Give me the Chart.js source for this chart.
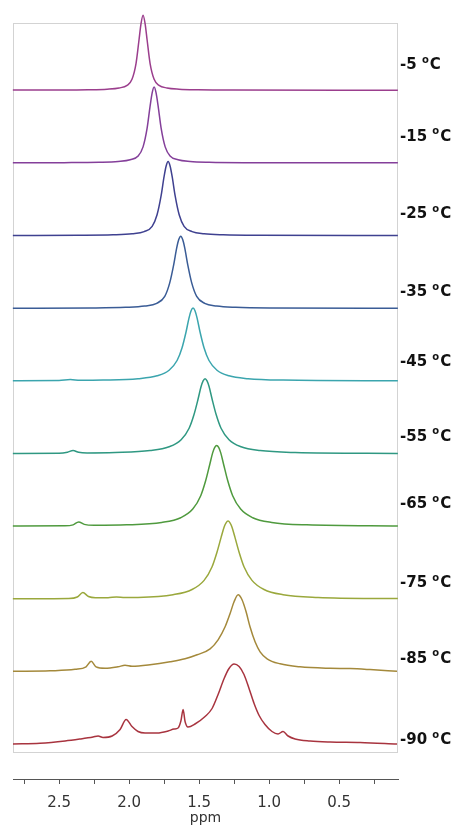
<!DOCTYPE html>
<html>
<head>
<meta charset="utf-8">
<script src="https://cdn.jsdelivr.net/npm/chart.js@4.4.1/dist/chart.umd.min.js"></script>
<style>
  html, body { margin: 0; padding: 0; background: #ffffff; }
  #wrap { width: 456px; height: 829px; position: relative; }
</style>
</head>
<body>
<div id="wrap"><canvas id="nmr"></canvas></div>
<script>
// Variable-temperature 1H NMR spectra, top (-5 °C) to bottom (-90 °C)
const TEMPS = [-5, -15, -25, -35, -45, -55, -65, -75, -85, -90];

// chemical shift (ppm) and intensity of each spectrum
const PPM_M5  = [2.83, 2.543, 2.293, 2.157, 2.071, 2.014, 1.979, 1.95, 1.929, 1.914, 1.9, 1.886, 1.871, 1.85, 1.821, 1.786, 1.729, 1.643, 1.507, 1.257, 0.08];
const INT_M5  = [0.08, 0.17, 0.45, 1.03, 2.25, 4.84, 10.9, 26.9, 50.2, 67.1, 75, 67.1, 50.2, 26.9, 10.9, 4.84, 2.25, 1.03, 0.45, 0.17, 0.06];

const PPM_M15 = [2.83, 2.464, 2.214, 2.078, 1.992, 1.935, 1.9, 1.871, 1.85, 1.835, 1.821, 1.807, 1.792, 1.771, 1.742, 1.707, 1.65, 1.564, 1.428, 1.178, 0.08];
const INT_M15 = [0.1, 0.24, 0.63, 1.44, 3.12, 6.9, 16.0, 34.7, 56.5, 70.1, 76, 70.1, 56.5, 34.7, 16.0, 6.9, 3.12, 1.44, 0.63, 0.24, 0.06];

const PPM_M25 = [2.83, 2.364, 2.114, 1.978, 1.892, 1.835, 1.8, 1.771, 1.75, 1.735, 1.721, 1.707, 1.692, 1.671, 1.642, 1.607, 1.55, 1.464, 1.328, 1.078, 0.08];
const INT_M25 = [0.12, 0.31, 0.81, 1.85, 3.97, 9.3, 20.8, 39.9, 58.9, 69.6, 74, 69.6, 58.9, 39.9, 20.8, 9.3, 3.97, 1.85, 0.81, 0.31, 0.08];

const PPM_M35 = [2.83, 2.274, 2.024, 1.888, 1.802, 1.745, 1.71, 1.681, 1.66, 1.645, 1.631, 1.617, 1.602, 1.581, 1.552, 1.517, 1.46, 1.374, 1.238, 0.988, 0.08];
const INT_M35 = [0.13, 0.38, 1.01, 2.28, 4.93, 12.0, 25.2, 43.7, 60.1, 68.7, 72, 68.7, 60.1, 43.7, 25.2, 12.0, 4.93, 2.28, 1.01, 0.38, 0.1];

const PPM_M45 = [2.83, 2.5, 2.42, 2.35, 2.186, 1.936, 1.8, 1.714, 1.657, 1.622, 1.593, 1.572, 1.557, 1.543, 1.529, 1.514, 1.493, 1.464, 1.429, 1.372, 1.286, 1.15, 0.9, 0.08];
const INT_M45 = [0.22, 0.4, 1.4, 0.65, 0.89, 2.34, 5.2, 10.8, 20.5, 33.0, 49.0, 62.9, 70.2, 73, 70.2, 62.9, 49.0, 33.0, 20.5, 10.8, 5.2, 2.34, 0.89, 0.17];

const PPM_M55 = [2.83, 2.5, 2.44, 2.40, 2.36, 2.3, 2.1, 1.85, 1.714, 1.628, 1.571, 1.536, 1.507, 1.486, 1.471, 1.457, 1.443, 1.428, 1.407, 1.378, 1.343, 1.286, 1.2, 1.064, 0.814, 0.08];
const INT_M55 = [0.27, 0.46, 1.5, 3.2, 1.4, 0.8, 1.2, 3.1, 6.9, 14.0, 25.5, 39.2, 54.7, 66.9, 72.8, 75, 72.8, 66.9, 54.7, 39.2, 25.5, 14.0, 6.9, 3.1, 1.2, 0.27];

const PPM_M65 = [2.83, 2.46, 2.40, 2.36, 2.32, 2.25, 2.017, 1.767, 1.631, 1.545, 1.488, 1.453, 1.424, 1.403, 1.388, 1.374, 1.36, 1.345, 1.324, 1.295, 1.26, 1.203, 1.117, 0.981, 0.731, 0.08];
const INT_M65 = [0.3, 0.54, 1.5, 4.5, 2.0, 1.1, 1.53, 3.98, 8.7, 17.3, 30.7, 45.6, 61.7, 73.5, 79.0, 81, 79.0, 73.5, 61.7, 45.6, 30.7, 17.3, 8.7, 3.98, 1.53, 0.38];

const PPM_M75 = [2.83, 2.43, 2.37, 2.33, 2.29, 2.24, 2.15, 2.09, 2.03, 1.936, 1.686, 1.55, 1.464, 1.407, 1.372, 1.343, 1.322, 1.307, 1.293, 1.279, 1.264, 1.243, 1.214, 1.179, 1.122, 1.036, 0.9, 0.65, 0.08];
const INT_M75 = [0.31, 0.6, 2.1, 6.5, 2.6, 1.4, 1.4, 2.1, 1.6, 1.72, 4.4, 9.6, 18.75, 32.4, 46.9, 61.5, 71.7, 76.3, 78, 76.3, 71.7, 61.5, 46.9, 32.4, 18.75, 9.6, 4.4, 1.72, 0.49];

const PPM_M85 = [2.829, 2.564, 2.386, 2.307, 2.271, 2.236, 2.171, 2.079, 2.029, 1.979, 1.85, 1.707, 1.6, 1.514, 1.421, 1.364, 1.314, 1.279, 1.25, 1.221, 1.193, 1.164, 1.136, 1.1, 1.064, 1.014, 0.921, 0.779, 0.564, 0.421, 0.279, 0.086];
const INT_M85 = [0.5, 1, 2.5, 5, 10.5, 5, 3.5, 5, 6.5, 5.5, 7, 10, 13, 17, 23, 32, 45, 58, 70, 77, 72, 60, 45, 30, 20, 13, 8, 5, 3.5, 3.2, 2.2, 0.5];

const PPM_M90 = [2.829, 2.636, 2.457, 2.35, 2.257, 2.221, 2.186, 2.121, 2.064, 2.021, 1.979, 1.936, 1.886, 1.8, 1.721, 1.679, 1.65, 1.629, 1.614, 1.6, 1.579, 1.529, 1.457, 1.407, 1.364, 1.321, 1.286, 1.25, 1.214, 1.179, 1.143, 1.107, 1.071, 1.029, 0.979, 0.936, 0.9, 0.864, 0.814, 0.707, 0.564, 0.35, 0.086];
const INT_M90 = [0.5, 1.2, 3.5, 5.5, 7.5, 8.5, 7, 8.5, 15, 25, 18, 13, 11.5, 11.5, 13.5, 15.5, 16.5, 24, 35, 23, 17.5, 20.5, 28, 36, 50, 66, 76, 80.5, 78, 70, 56, 41, 29, 20, 13, 10.5, 13, 8.5, 5.5, 3.5, 2.5, 2, 0.5];

const PPM = [PPM_M5, PPM_M15, PPM_M25, PPM_M35, PPM_M45, PPM_M55, PPM_M65, PPM_M75, PPM_M85, PPM_M90];
const INT = [INT_M5, INT_M15, INT_M25, INT_M35, INT_M45, INT_M55, INT_M65, INT_M75, INT_M85, INT_M90];

// x axis ticks every 0.25 ppm, labelled every 0.5 ppm
const TICK_VALUES = [2.75, 2.5, 2.25, 2.0, 1.75, 1.5, 1.25, 1.0, 0.75, 0.5, 0.25];
const TICK_LABELS = ['', '2.5', '', '2.0', '', '1.5', '', '1.0', '', '0.5', ''];

// drawing style
const COLORS = ['#9b3e8d', '#843f9a', '#3f4190', '#3a5c96', '#3ba5ae', '#2f9882', '#4f9a3e', '#9aa83c', '#a4893b', '#a8343f'];
const STACK_BASE = 7.5;   // baseline of the lowest spectrum
const STACK_STEP = 72.7;  // vertical spacing between spectra
const LABEL_LIFT = [25, 26, 21, 16, 19, 17, 22, 16, 13, 4.5];
const FONT = '"DejaVu Sans", Verdana, sans-serif';

function baseline(i) { return STACK_BASE + STACK_STEP * (TEMPS.length - 1 - i); }

const datasets = TEMPS.map((t, i) => ({
  label: t + ' °C',
  data: PPM[i].map((p, j) => ({ x: p, y: baseline(i) + INT[i][j] })),
  borderColor: COLORS[i],
  borderWidth: 1.5,
  pointRadius: 0,
  fill: false,
  cubicInterpolationMode: 'monotone',
  clip: false
}));

// light frame around the stacked spectra
const framePlugin = {
  id: 'frame',
  beforeDatasetsDraw(chart) {
    const { ctx, chartArea: a, scales: { y } } = chart;
    const bottom = Math.round(y.getPixelForValue(0)) + 0.5;
    ctx.save();
    ctx.strokeStyle = '#d3d3d3';
    ctx.lineWidth = 1;
    ctx.strokeRect(a.left + 0.5, a.top + 0.5, a.right - a.left - 1, bottom - a.top - 0.5);
    ctx.restore();
  }
};

// temperature label at the right of each spectrum
const tempLabels = {
  id: 'tempLabels',
  afterDatasetsDraw(chart) {
    const { ctx, chartArea: a, scales: { y } } = chart;
    ctx.save();
    ctx.fillStyle = '#111111';
    ctx.textBaseline = 'middle';
    ctx.textAlign = 'left';
    TEMPS.forEach((t, i) => {
      const py = y.getPixelForValue(baseline(i) + LABEL_LIFT[i]);
      let px = a.right + 2;
      ctx.font = 'bold 15px ' + FONT;
      const head = t + ' ';
      ctx.fillText(head, px, py);
      px += ctx.measureText(head).width;
      ctx.font = 'bold 10px ' + FONT;
      ctx.fillText('o', px, py - 5);
      px += ctx.measureText('o').width + 1;
      ctx.font = 'bold 15px ' + FONT;
      ctx.fillText('C', px, py);
    });
    ctx.restore();
  }
};

new Chart(document.getElementById('nmr'), {
  type: 'line',
  data: { datasets },
  plugins: [framePlugin, tempLabels],
  options: {
    responsive: true,
    maintainAspectRatio: false,
    animation: false,
    events: [],
    layout: { padding: { left: 13, right: 58, top: 23, bottom: 0 } },
    plugins: { legend: { display: false }, tooltip: { enabled: false } },
    scales: {
      x: {
        type: 'linear',
        reverse: true,
        min: 0.079,
        max: 2.829,
        afterBuildTicks: (s) => { s.ticks = TICK_VALUES.map(v => ({ value: v })); },
        afterFit: (s) => { s.height = 50; },
        grid: { drawOnChartArea: false, drawTicks: true, tickLength: 5, color: '#555555', lineWidth: 1 },
        border: { display: true, color: '#555555', width: 1 },
        ticks: {
          padding: 10,
          color: '#333333',
          autoSkip: false,
          maxRotation: 0,
          font: { family: FONT, size: 15 },
          callback: (v, i) => TICK_LABELS[i]
        },
        title: {
          display: true,
          text: 'ppm',
          color: '#333333',
          font: { family: FONT, size: 14 },
          padding: { top: 0, bottom: 2 }
        }
      },
      y: { display: false, min: -27, max: 729 }
    }
  }
});
</script>
</body>
</html>
